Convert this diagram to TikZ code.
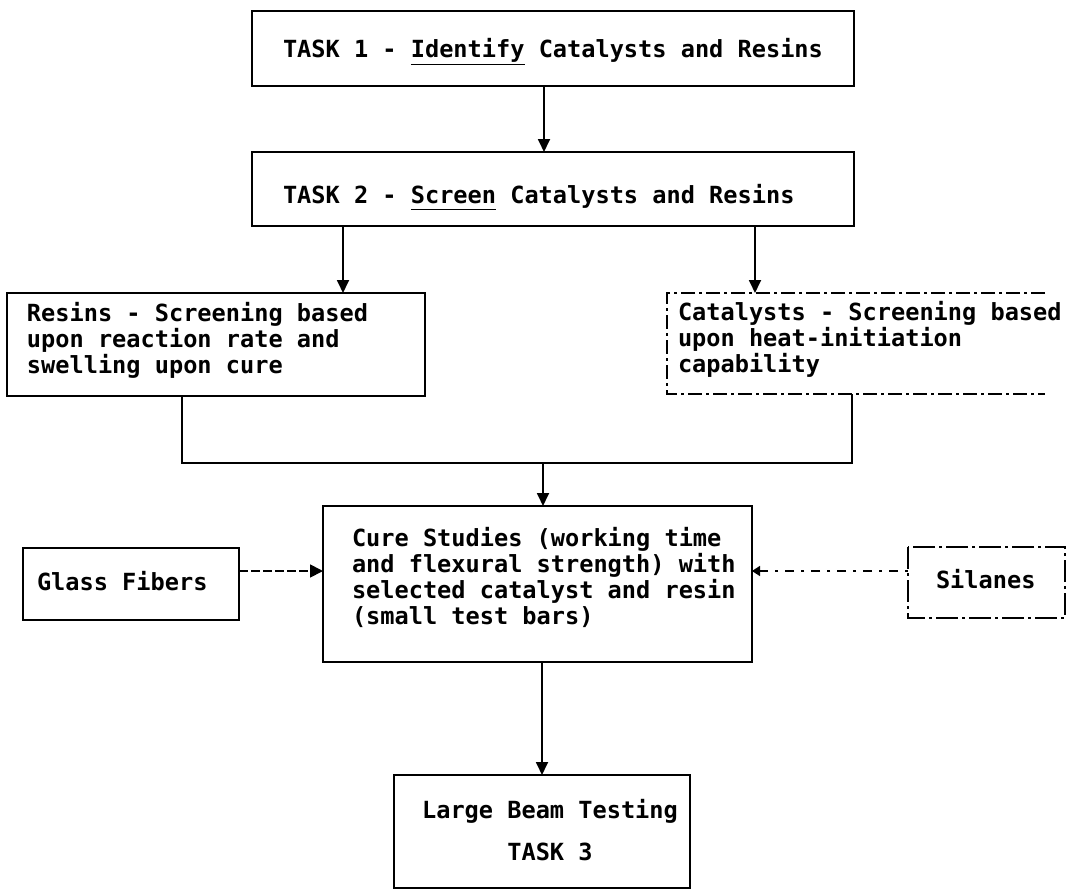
\documentclass[tikz,border=0pt]{standalone}
\usepackage{fontspec}
\setmainfont{DejaVu Sans Mono}
\usetikzlibrary{arrows.meta}
\newcommand\boxtextfont{\fontsize{23.6}{26}\selectfont\bfseries}
\newcommand\beamtextfont{\fontsize{23.6}{42}\selectfont\bfseries}
\begin{document}
\begin{tikzpicture}[x=1pt,y=-1pt,
  every node/.style={inner sep=0pt, outer sep=0pt},
  box/.style={draw, line width=1.8pt, minimum width=#1},
  txt/.style={font=\boxtextfont, anchor=base west, align=left},
  arr/.style={line width=1.8pt, -{Triangle[width=12pt,length=13pt]}},
  conn/.style={line width=1.8pt},
  catbox/.style={line width=1.5pt, dash pattern=on 14pt off 4pt on 3pt off 4pt},
  silbox/.style={line width=1.6pt, dash pattern=on 22pt off 4pt on 3pt off 4pt},
  glarr/.style={line width=1.8pt, dash pattern=on 9pt off 3pt, -{Triangle[width=13pt,length=13pt]}},
  silarr/.style={line width=1.5pt, dash pattern=on 3pt off 7pt on 9pt off 7pt, -{Triangle[width=10pt,length=8pt]}}
]
\useasboundingbox (0,0) rectangle (1088,891);

% boxes
\node[box=602pt, minimum height=75pt] (t1) at (553,48.5) {};
\node[box=602pt, minimum height=74pt] (t2) at (553,189) {};
\node[box=418pt, minimum height=103pt] (res) at (216,344.5) {};
\node[minimum width=421pt, minimum height=101pt] (cat) at (877.5,343.5) {};
\node[box=429pt, minimum height=156pt] (cure) at (537.5,584) {};
\node[box=216pt, minimum height=72pt] (glass) at (131,584) {};
\node[minimum width=157pt, minimum height=71pt] (sil) at (986.5,582.5) {};
\node[box=296pt, minimum height=113pt] (beam) at (542,831.5) {};

% catalysts and silanes outlines
\draw[catbox] ([xshift=378pt]cat.north west) -- (cat.north west) -- (cat.south west) -- ([xshift=378pt]cat.south west);
\draw[silbox] (sil.north west) rectangle (sil.south east);

% texts (base anchor = baseline of the last line)
\node[txt] (t1txt) at (283,58) {TASK 1 - \underline{Identify} Catalysts and Resins};
\node[txt] (t2txt) at (283,203) {TASK 2 - \underline{Screen\vphantom{y}} Catalysts and Resins};
\node[txt] (restxt) at (27,373) {Resins - Screening based\\upon reaction rate and\\swelling upon cure};
\node[txt] (cattxt) at (678,372) {Catalysts - Screening based\\upon heat-initiation\\capability};
\node[txt] (curetxt) at (352,624) {Cure Studies (working time\\and flexural strength) with\\selected catalyst and resin\\(small test bars)};
\node[txt] (glasstxt) at (37,590) {Glass Fibers};
\node[txt] (siltxt) at (936,588) {Silanes};
\node[font=\beamtextfont, anchor=base, align=center] (beamtxt) at (550,860) {Large Beam Testing\\TASK 3};

% connectors
\coordinate (a0) at ([xshift=-9pt]t1.south);
\draw[arr] (a0) -- (a0 |- t2.north);
\coordinate (a1) at ([xshift=91pt]t2.south west);
\draw[arr] (a1) -- (a1 |- res.north);
\coordinate (a2) at ([xshift=503pt]t2.south west);
\draw[arr] (a2) -- (a2 |- cat.north);

\coordinate (r1) at ([xshift=175pt]res.south west);
\coordinate (c1) at ([xshift=185pt]cat.south west);
\coordinate (j) at (543,463);
\draw[conn] (r1) -- (r1 |- j) -- (c1 |- j) -- (c1);
\draw[arr] (j) -- (j |- cure.north);

\coordinate (g1) at ([yshift=13pt]glass.east);
\draw[glarr] (g1) -- (g1 -| cure.west);
\coordinate (s1) at (sil.west |- g1);
\draw[silarr] (s1) -- (s1 -| cure.east);

\coordinate (b1) at (cure.south -| beam.north);
\draw[arr] (b1) -- (beam.north);
\end{tikzpicture}
\end{document}
